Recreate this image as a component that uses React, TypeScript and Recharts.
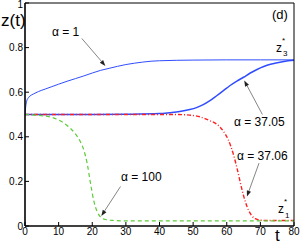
import React from 'react'
import { LineChart, Line, XAxis, YAxis, ReferenceLine } from 'recharts'

// t (x) and z(t) (y) samples, one pair of arrays per alpha
const tAlpha1 = [0, 0.25, 0.5, 1, 1.5, 2.5, 4, 6, 8, 10, 12.5, 15, 17.5, 20, 22.5, 25, 27.5, 30, 32.5, 35, 37.5, 40, 45, 50, 60, 70, 80]
const zAlpha1 = [0.5, 0.54, 0.56, 0.575, 0.583, 0.592, 0.603, 0.614, 0.625, 0.636, 0.649, 0.661, 0.673, 0.686, 0.698, 0.707, 0.716, 0.724, 0.73, 0.735, 0.739, 0.741, 0.743, 0.744, 0.745, 0.745, 0.745]

const tAlpha3705 = [0, 10, 20, 30, 40, 43, 46, 49, 51, 53, 55, 57, 59, 61, 63, 65, 67, 69, 71, 73, 75, 77, 80]
const zAlpha3705 = [0.5, 0.5, 0.5, 0.501, 0.504, 0.508, 0.513, 0.522, 0.531, 0.544, 0.562, 0.584, 0.607, 0.63, 0.65, 0.667, 0.686, 0.702, 0.715, 0.725, 0.732, 0.738, 0.743]

const tAlpha3706 = [0, 10, 20, 30, 40, 45, 49, 52, 55, 57, 59, 60.5, 62, 63.2, 64.5, 65.5, 66.5, 67.5, 68.5, 70, 72, 75, 80]
const zAlpha3706 = [0.5, 0.5, 0.5, 0.5, 0.5, 0.5, 0.497, 0.49, 0.472, 0.457, 0.425, 0.385, 0.32, 0.25, 0.165, 0.11, 0.07, 0.045, 0.033, 0.026, 0.025, 0.025, 0.025]

const tAlpha100 = [0, 4, 8, 11, 13, 15, 16.5, 17.5, 18.5, 19.5, 20.5, 21.5, 22.5, 24, 26, 30, 40, 60, 80]
const zAlpha100 = [0.5, 0.496, 0.487, 0.467, 0.445, 0.413, 0.377, 0.34, 0.28, 0.19, 0.11, 0.063, 0.04, 0.029, 0.025, 0.023, 0.023, 0.023, 0.023]

const xTicks = [0, 10, 20, 30, 40, 50, 60, 70, 80]
const yTicks = [0, 0.2, 0.4, 0.6, 0.8, 1]

// annotation arrows: [tFrom, zFrom, tTo, zTo]
const arrows = [
  [16.9, 0.841, 23.9, 0.718],
  [70.6, 0.5, 65.2, 0.653],
  [69.6, 0.282, 66.0, 0.132],
  [28.4, 0.177, 22.7, 0.045],
]

const toPoints = (ts: number[], zs: number[]) => ts.map((t, i) => ({ t, z: zs[i] }))

const BLUE = '#2f4dff'
const RED = '#ff1f1f'
const GREEN = '#5ccc3a'
const FONT = 'Arial, "Liberation Sans", sans-serif'

const Arrow = (props: any) => {
  const { x1, y1, x2, y2 } = props
  const ang = Math.atan2(y2 - y1, x2 - x1)
  const len = 6
  const w = 2.2
  const bx = x2 - len * Math.cos(ang)
  const by = y2 - len * Math.sin(ang)
  const px = -Math.sin(ang) * w
  const py = Math.cos(ang) * w
  return (
    <g>
      <line x1={x1} y1={y1} x2={bx} y2={by} stroke="#666" strokeWidth={0.8} />
      <polygon points={`${x2},${y2} ${bx + px},${by + py} ${bx - px},${by - py}`} fill="#222" />
    </g>
  )
}

// y tick label; the top one is nudged down so it stays inside the picture
const YTick = (props: any) => {
  const { x, y, payload } = props
  return (
    <text x={x} y={Math.max(y, 4.5)} dy="0.355em" textAnchor="end" fontSize={10} fontFamily={FONT} fill="#000">
      {String(payload.value)}
    </text>
  )
}

export default function App() {
  const tickStyle = { fontSize: 10, fontFamily: FONT, fill: '#000' }
  return (
    <div style={{ position: 'absolute', left: 0, top: 0, width: 300, height: 244, background: '#fff' }}>
      <LineChart width={300} height={244} margin={{ top: 0, right: 0, bottom: 0, left: 0 }}>
        <XAxis
          xAxisId="b"
          dataKey="t"
          type="number"
          domain={[0, 80]}
          ticks={xTicks}
          interval={0}
          height={18}
          tickSize={-4}
          tickMargin={6}
          stroke="#000"
          axisLine={{ stroke: '#000', strokeWidth: 1.6 }}
          tick={tickStyle}
          allowDataOverflow
        />
        <XAxis
          xAxisId="top"
          orientation="top"
          dataKey="t"
          type="number"
          domain={[0, 80]}
          ticks={xTicks}
          interval={0}
          height={3}
          tickSize={-4}
          tick={false}
          stroke="#000"
          axisLine={{ stroke: '#000', strokeWidth: 1 }}
        />
        <YAxis
          yAxisId="l"
          type="number"
          domain={[0, 1]}
          ticks={yTicks}
          interval={0}
          width={25}
          tickSize={-4}
          tickMargin={6}
          stroke="#000"
          axisLine={{ stroke: '#000', strokeWidth: 1.6 }}
          tick={<YTick />}
          allowDataOverflow
        />
        <YAxis
          yAxisId="r"
          orientation="right"
          type="number"
          domain={[0, 1]}
          ticks={yTicks}
          interval={0}
          width={6}
          tickSize={-4}
          tick={false}
          stroke="#000"
          axisLine={{ stroke: '#000', strokeWidth: 1 }}
        />
        <Line xAxisId="b" yAxisId="l" data={toPoints(tAlpha3705, zAlpha3705)} dataKey="z" type="monotone" stroke={BLUE} strokeWidth={1.5} dot={false} isAnimationActive={false} />
        <Line xAxisId="b" yAxisId="l" data={toPoints(tAlpha3706, zAlpha3706)} dataKey="z" type="monotone" stroke={RED} strokeWidth={1.4} strokeDasharray="4 2 1 2" dot={false} isAnimationActive={false} />
        <Line xAxisId="b" yAxisId="l" data={toPoints(tAlpha100, zAlpha100)} dataKey="z" type="monotone" stroke={GREEN} strokeWidth={1.2} strokeDasharray="4 3" dot={false} isAnimationActive={false} />
        <Line xAxisId="b" yAxisId="l" data={toPoints(tAlpha1, zAlpha1)} dataKey="z" type="monotone" stroke={BLUE} strokeWidth={1} dot={false} isAnimationActive={false} />
        {arrows.map((a, i) => (
          <ReferenceLine
            key={i}
            xAxisId="b"
            yAxisId="l"
            segment={[{ x: a[0], y: a[1] }, { x: a[2], y: a[3] }]}
            shape={Arrow}
          />
        ))}
      </LineChart>
      <svg width={300} height={244} style={{ position: 'absolute', left: 0, top: 0, pointerEvents: 'none' }}>
        <g fontFamily={FONT} fill="#000">
          <text x={1} y={26} fontSize={17}>z(t)</text>
          <text x={275} y={241} fontSize={17}>t</text>
          <text x={272} y={19} fontSize={13}>(d)</text>
          <text x={52} y={36} fontSize={12}>α = 1</text>
          <text x={234} y={125.5} fontSize={12}>α = 37.05</text>
          <text x={237} y={160} fontSize={12}>α = 37.06</text>
          <text x={121} y={180.5} fontSize={12}>α = 100</text>
          <text x={276} y={52} fontSize={12}>z</text>
          <text x={283} y={56} fontSize={8}>3</text>
          <text x={282} y={43} fontSize={8}>*</text>
          <text x={278} y={213} fontSize={12}>z</text>
          <text x={285} y={218} fontSize={8}>1</text>
          <text x={284} y={204} fontSize={8}>*</text>
        </g>
      </svg>
    </div>
  )
}
